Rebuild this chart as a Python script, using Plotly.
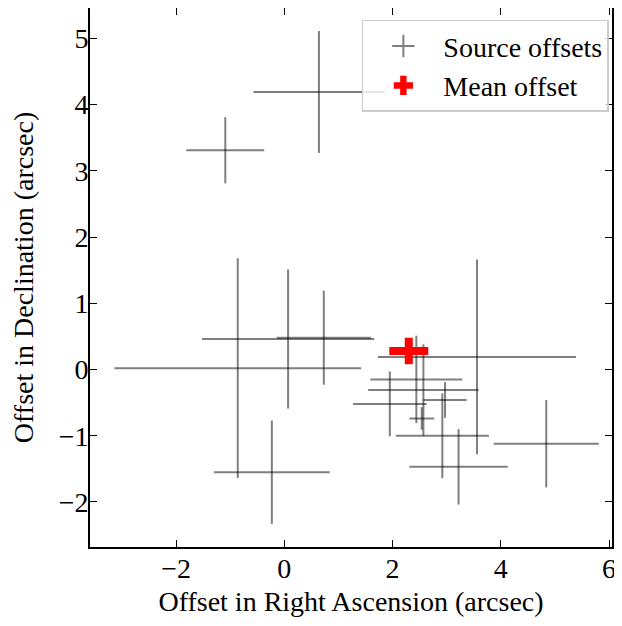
import plotly.graph_objects as go

# Source offsets (arcsec)
ra_offset = [-0.86, 0.07, 0.73, -0.23, 3.56, 4.84, 3.22, 2.92, 2.97, 1.95, 2.44, 2.57, 2.54, 0.64, -1.09]
dec_offset = [0.02, 0.46, 0.48, -1.55, 0.19, -1.12, -1.47, -1.00, -0.46, -0.52, -0.15, -0.31, -0.74, 4.19, 3.31]
ra_err = [2.28, 1.59, 0.87, 1.07, 1.83, 0.97, 0.91, 0.86, 0.40, 0.68, 0.85, 1.02, 0.23, 1.21, 0.72]
dec_err = [1.66, 1.05, 0.71, 0.78, 1.47, 0.66, 0.57, 0.64, 0.27, 0.49, 0.66, 0.69, 0.17, 0.92, 0.50]

# Mean offset
mean_ra = [2.30]
mean_dec = [0.28]
mean_ra_err = [0.36]
mean_dec_err = [0.20]

x_ticks = [-2, 0, 2, 4, 6]
y_ticks = [-2, -1, 0, 1, 2, 3, 4, 5]

FONT = "Liberation Serif"
FS = 28
gray = "rgba(0,0,0,0.5)"

fig = go.Figure()
for i in range(len(ra_offset)):
    fig.add_trace(go.Scatter(
        x=[ra_offset[i]], y=[dec_offset[i]], mode="markers",
        marker=dict(size=0.1, color="rgba(0,0,0,0)"),
        error_x=dict(type="data", array=[ra_err[i]], color=gray, thickness=2, width=0),
        error_y=dict(type="data", array=[dec_err[i]], color=gray, thickness=2, width=0),
        showlegend=False, hoverinfo="skip"))

fig.add_trace(go.Scatter(
    x=mean_ra, y=mean_dec, mode="markers",
    marker=dict(size=0.1, color="rgba(0,0,0,0)"),
    error_x=dict(type="data", array=mean_ra_err, color="red", thickness=8, width=0),
    error_y=dict(type="data", array=mean_dec_err, color="red", thickness=8, width=0),
    showlegend=False, hoverinfo="skip"))

# legend entries
fig.add_trace(go.Scatter(x=[None], y=[None], mode="markers", name="Source offsets",
                         legendgroup="a",
                         marker=dict(symbol="cross-thin-open", size=20, color=gray,
                                     line=dict(color=gray, width=2))))
fig.add_trace(go.Scatter(x=[None], y=[None], mode="markers", name="Mean offset",
                         legendgroup="b",
                         marker=dict(symbol="cross", size=22, color="red",
                                     line=dict(width=0))))

axis_common = dict(
    showline=True, linecolor="black", linewidth=1.6, mirror="ticks",
    ticks="inside", ticklen=7, tickwidth=1.4, tickcolor="black",
    showgrid=False, zeroline=False, automargin=False,
    tickfont=dict(family=FONT, size=FS, color="black"),
)

fig.update_layout(
    width=622, height=626,
    margin=dict(l=82, r=18, t=0, b=87),
    paper_bgcolor="white", plot_bgcolor="white",
    font=dict(family=FONT, size=FS, color="black"),
    xaxis=dict(range=[-3.59, 6.055], tickvals=x_ticks, ticklabelstandoff=-4,
               title=dict(text="Offset in Right Ascension (arcsec)", font=dict(family=FONT, size=FS), standoff=8),
               **axis_common),
    yaxis=dict(range=[-2.68, 5.458], tickvals=y_ticks, ticklabelstandoff=-6,
               title=dict(text="Offset in Declination (arcsec)", font=dict(family=FONT, size=FS), standoff=17),
               **axis_common),
    legend=dict(x=0.994, y=0.978, xanchor="right", yanchor="top",
                bgcolor="rgba(255,255,255,0.8)", bordercolor="#cccccc", borderwidth=1.5,
                font=dict(family=FONT, size=FS, color="black"),
                traceorder="grouped", tracegroupgap=0, itemwidth=70),
)

fig.write_html("out.html")
